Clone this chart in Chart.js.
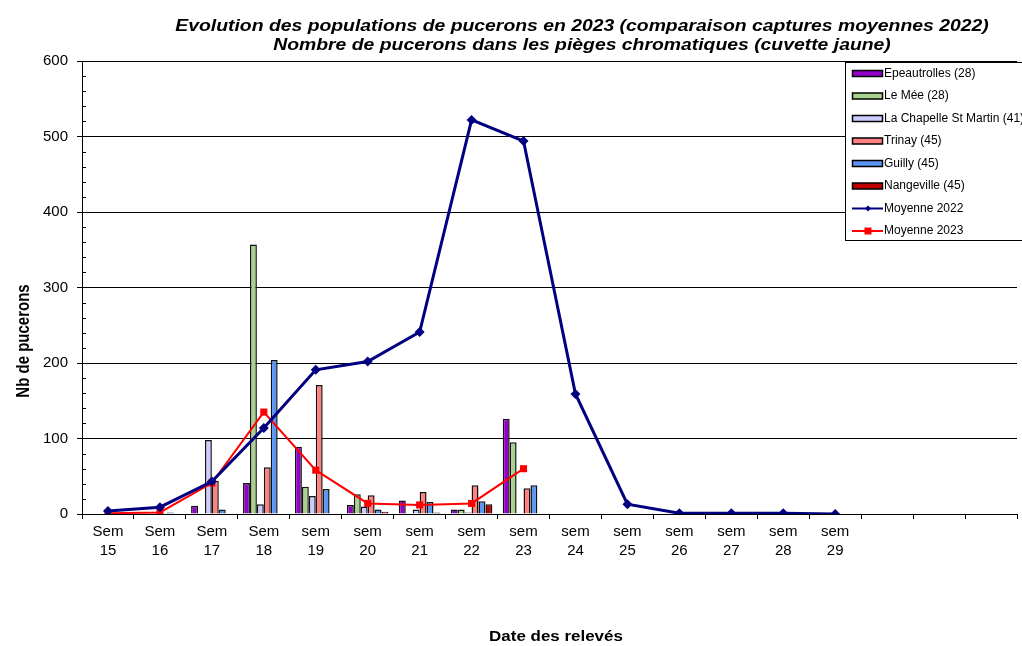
<!DOCTYPE html>
<html>
<head>
<meta charset="utf-8">
<script src="https://cdn.jsdelivr.net/npm/chart.js@4"></script>
<style>
  body { margin: 0; background: #fff; }
  #wrap { width: 1022px; height: 646px; }
</style>
</head>
<body>
<div id="wrap"><canvas id="pucChart" width="1022" height="646"></canvas></div>
<script>
// semaines (3 dernieres colonnes vides)
const semaines = [
  ['Sem', '15'], ['Sem', '16'], ['Sem', '17'], ['Sem', '18'],
  ['sem', '19'], ['sem', '20'], ['sem', '21'], ['sem', '22'], ['sem', '23'],
  ['sem', '24'], ['sem', '25'], ['sem', '26'], ['sem', '27'], ['sem', '28'], ['sem', '29'],
  '', '', ''
]

// captures par piege
const epeautrolles = [0, 0, 11, 41, 89, 12, 18, 6, 126]
const leMee        = [0, 0, 0, 357, 36, 26, 1, 6, 95]
const laChapelle   = [0, 0, 98, 13, 24, 10, 6, 2, 0]
const trinay       = [0, 0, 44, 62, 171, 25, 29, 38, 34]
const guilly       = [0, 2, 6, 204, 33, 6, 16, 17, 38]
const nangeville   = [0, 0, 0, 0, 0, 3, 2, 13, 0]

// moyennes
const moyenne2022 = [4, 9, 43, 114, 191, 202, 241, 522, 494, 159, 13, 1, 1, 1, 0]
const moyenne2023 = [1, 2, 41, 135, 58, 14, 12, 14, 60]

const yTicks = [0, 100, 200, 300, 400, 500, 600]

const FONT = "'Liberation Sans', Arial, sans-serif"

const barSet = (label, data, color) => ({
  type: 'bar', label, data, order: 1,
  backgroundColor: color, borderColor: '#111', borderWidth: 1.5,
  categoryPercentage: 0.8, barPercentage: 1.0
})

// texte etire horizontalement (comme la copie d'ecran d'origine)
const wideText = (ctx, txt, x, y, sx) => {
  ctx.save()
  ctx.translate(x, y)
  ctx.scale(sx, 1)
  ctx.fillText(txt, 0, 0)
  ctx.restore()
}

/* titre, titres des axes, petites graduations et legende encadree */
const decor = {
  id: 'decor',
  afterDraw(chart) {
    const ctx = chart.ctx
    const yScale = chart.scales.y
    ctx.save()

    // graduations secondaires (tous les 20) vers l'interieur
    ctx.strokeStyle = '#000'
    ctx.lineWidth = 1
    for (let v = 20; v < 600; v += 20) {
      if (v % 100 === 0) continue
      const py = Math.round(yScale.getPixelForValue(v)) + 0.5
      ctx.beginPath(); ctx.moveTo(yScale.right, py); ctx.lineTo(yScale.right + 4, py); ctx.stroke()
    }

    ctx.fillStyle = '#000'
    ctx.textAlign = 'center'
    ctx.textBaseline = 'middle'
    ctx.font = `italic bold 16px ${FONT}`
    wideText(ctx, 'Evolution des populations de pucerons en 2023 (comparaison captures moyennes 2022)', 582, 27, 1.21)
    wideText(ctx, 'Nombre de pucerons dans les pièges chromatiques (cuvette jaune)', 582, 46, 1.21)

    // titre axe X
    ctx.font = `bold 15px ${FONT}`
    wideText(ctx, 'Date des relevés', 556, 637, 1.13)

    // titre axe Y
    ctx.save()
    ctx.translate(24, 341)
    ctx.rotate(-Math.PI / 2)
    ctx.scale(1, 1.2)
    ctx.fillText('Nb de pucerons', 0, 0)
    ctx.restore()
    ctx.restore()

    // legende
    ctx.save()
    ctx.fillStyle = '#fff'
    ctx.strokeStyle = '#000'
    ctx.lineWidth = 1
    ctx.fillRect(845.5, 62.5, 200, 178)
    ctx.strokeRect(845.5, 62.5, 200, 178)
    ctx.font = `12px ${FONT}`
    ctx.textAlign = 'left'
    ctx.textBaseline = 'middle'
    chart.data.datasets.forEach((ds, i) => {
      const y = 73.5 + i * 22.5
      if (ds.type === 'line') {
        ctx.strokeStyle = ds.borderColor
        ctx.lineWidth = 2
        ctx.beginPath(); ctx.moveTo(852, y); ctx.lineTo(883, y); ctx.stroke()
        ctx.fillStyle = ds.borderColor
        if (ds.pointStyle === 'rect') {
          ctx.fillRect(864.5, y - 3.5, 7, 7)
        } else {
          ctx.beginPath()
          ctx.moveTo(868, y - 3); ctx.lineTo(871, y); ctx.lineTo(868, y + 3); ctx.lineTo(865, y)
          ctx.closePath(); ctx.fill()
        }
      } else {
        ctx.fillStyle = ds.backgroundColor
        ctx.fillRect(852.5, y - 3, 30, 6)
        ctx.strokeStyle = '#000'
        ctx.lineWidth = 1.5
        ctx.strokeRect(852.5, y - 3, 30, 6)
      }
      ctx.fillStyle = '#000'
      ctx.fillText(ds.label, 884, y)
    })
    ctx.restore()
  }
}

const ctx = document.getElementById('pucChart').getContext('2d')
const pucChart = new Chart(ctx, {
  data: {
    labels: semaines,
    datasets: [
      barSet('Epeautrolles (28)', epeautrolles, '#9400C8'),
      barSet('Le Mée (28)', leMee, '#A9D18E'),
      barSet('La Chapelle St Martin (41)', laChapelle, '#CCCCFF'),
      barSet('Trinay (45)', trinay, '#FF8080'),
      barSet('Guilly (45)', guilly, '#5B95F5'),
      barSet('Nangeville (45)', nangeville, '#C00000'),
      {
        type: 'line', label: 'Moyenne 2022', data: moyenne2022, order: 0,
        borderColor: '#000080', backgroundColor: '#000080', borderWidth: 3,
        pointStyle: 'rectRot', pointRadius: 5, pointBorderWidth: 0, tension: 0
      },
      {
        type: 'line', label: 'Moyenne 2023', data: moyenne2023, order: 0,
        borderColor: '#FF0000', backgroundColor: '#FF0000', borderWidth: 2,
        pointStyle: 'rect', pointRadius: 5, pointBorderWidth: 0, tension: 0
      }
    ]
  },
  options: {
    responsive: false,
    animation: false,
    layout: { padding: { top: 61, right: 4, left: 0, bottom: 0 } },
    plugins: {
      legend: { display: false },
      title: { display: false },
      tooltip: { enabled: false }
    },
    scales: {
      x: {
        offset: true,
        grid: { offset: true, drawOnChartArea: false, color: '#000', tickLength: 5 },
        border: { color: '#000', width: 1 },
        ticks: { color: '#000', font: { family: FONT, size: 15, lineHeight: 1.27 }, maxRotation: 0, autoSkip: false, padding: 3 },
        afterFit: (scale) => { scale.height = 132 }
      },
      y: {
        min: 0, max: 600,
        afterBuildTicks: (scale) => { scale.ticks = yTicks.map(v => ({ value: v })) },
        grid: { color: '#000', tickLength: 5 },
        border: { color: '#000', width: 1 },
        ticks: { color: '#000', font: { family: FONT, size: 15 }, padding: 9 },
        afterFit: (scale) => { scale.width = 82 }
      }
    }
  },
  plugins: [decor]
})
</script>
</body>
</html>
